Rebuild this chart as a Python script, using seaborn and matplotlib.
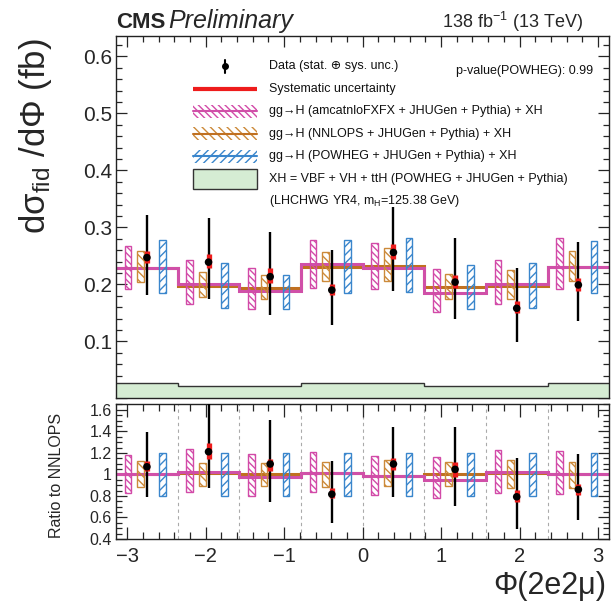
import numpy as np
import matplotlib
matplotlib.use("Agg")
import matplotlib.pyplot as plt
import seaborn as sns
from matplotlib.ticker import MultipleLocator, FuncFormatter
from matplotlib.patches import Rectangle

# ---------------- data ----------------
edges = [-3.1416, -2.3562, -1.5708, -0.7854, 0.0, 0.7854, 1.5708, 2.3562, 3.1416]

# top panel
nnlops_line = [0.229, 0.197, 0.194, 0.231, 0.232, 0.195, 0.197, 0.231]
amcnlo_line = [0.229, 0.201, 0.189, 0.235, 0.229, 0.185, 0.200, 0.231]
xh_line = [0.0265, 0.022, 0.022, 0.0265, 0.0265, 0.022, 0.021, 0.0265]

amc_hi = [0.267, 0.243, 0.2295, 0.278, 0.272, 0.2265, 0.2435, 0.281]
amc_lo = [0.192, 0.166, 0.156, 0.194, 0.191, 0.152, 0.166, 0.191]
nnl_hi = [0.259, 0.221, 0.216, 0.257, 0.263, 0.218, 0.2245, 0.259]
nnl_lo = [0.204, 0.177, 0.174, 0.206, 0.206, 0.1735, 0.175, 0.206]
pow_hi = [0.278, 0.238, 0.216, 0.278, 0.281, 0.234, 0.238, 0.276]
pow_lo = [0.184, 0.158, 0.156, 0.185, 0.187, 0.156, 0.158, 0.185]

data_val = [0.247, 0.239, 0.2135, 0.190, 0.256, 0.204, 0.158, 0.199]
data_hi = [0.322, 0.316, 0.292, 0.260, 0.335, 0.281, 0.229, 0.274]
data_lo = [0.182, 0.174, 0.146, 0.129, 0.188, 0.140, 0.098, 0.135]
sys_hi = [0.259, 0.253, 0.2295, 0.200, 0.2705, 0.216, 0.1705, 0.212]
sys_lo = [0.238, 0.2295, 0.203, 0.182, 0.245, 0.194, 0.150, 0.188]

# ratio panel
r_nnlops_line = [1.0, 1.01, 1.0, 1.01, 0.99, 1.0, 1.01, 1.0]
r_amcnlo_line = [1.0, 1.02, 0.975, 1.015, 0.99, 0.95, 1.02, 1.005]
r_amc_hi = [1.177, 1.233, 1.186, 1.21, 1.175, 1.158, 1.226, 1.217]
r_amc_lo = [0.829, 0.836, 0.800, 0.84, 0.81, 0.777, 0.829, 0.814]
r_nnl_hi = [1.124, 1.108, 1.106, 1.12, 1.13, 1.118, 1.133, 1.118]
r_nnl_lo = [0.882, 0.891, 0.888, 0.88, 0.89, 0.891, 0.870, 0.876]
r_pow_hi = [1.20, 1.20, 1.20, 1.20, 1.20, 1.20, 1.20, 1.20]
r_pow_lo = [0.80, 0.80, 0.80, 0.80, 0.80, 0.80, 0.80, 0.80]
r_data = [1.071, 1.211, 1.097, 0.816, 1.097, 1.047, 0.792, 0.860]
r_data_hi = [1.397, 1.70, 1.503, 1.122, 1.44, 1.437, 1.155, 1.186]
r_data_lo = [0.792, 0.870, 0.741, 0.55, 0.794, 0.709, 0.49, 0.581]
r_sys_hi = [1.124, 1.295, 1.144, 0.872, 1.15, 1.118, 0.854, 0.91]
r_sys_lo = [1.031, 1.14, 1.028, 0.778, 1.044, 0.978, 0.746, 0.808]

legend_labels = [
    "Data (stat. \u2295 sys. unc.)",
    "Systematic uncertainty",
    "gg\u2192H (amcatnloFXFX + JHUGen + Pythia) + XH",
    "gg\u2192H (NNLOPS + JHUGen + Pythia) + XH",
    "gg\u2192H (POWHEG + JHUGen + Pythia) + XH",
    "XH = VBF + VH + ttH (POWHEG + JHUGen + Pythia)",
    "(LHCHWG YR4, m$_{\\rm H}$=125.38 GeV)",
]

# ---------------- style ----------------
sns.set_theme(style="ticks")
plt.rcParams["font.family"] = ["Liberation Sans", "DejaVu Sans"]
plt.rcParams["mathtext.fontset"] = "custom"
plt.rcParams["mathtext.rm"] = "Liberation Sans"
plt.rcParams["mathtext.it"] = "Liberation Sans:italic"
plt.rcParams["hatch.linewidth"] = 1.0

C_AMC = "#d24aa8"
C_NNL = "#cc8a3a"
C_POW = "#3a86cc"
C_AMC_LINE = "#d050a8"
C_NNL_LINE = "#c07020"
C_GREEN = "#d5ecd3"
C_RED = "#ee1c1c"
H_AMC = "\\" * 5
H_NNL = "\\" * 4
H_POW = "/" * 4

edges_a = np.array(edges)
centers = 0.5 * (edges_a[:-1] + edges_a[1:])
OFF_AMC, OFF_NNL, OFF_POW = -0.24, -0.08, 0.20
BOXW = 0.085

fig = plt.figure(figsize=(6.11, 6.06), dpi=100)
ax = fig.add_axes([0.190, 0.3427, 0.807, 0.598])
axr = fig.add_axes([0.190, 0.1106, 0.807, 0.2228])


def draw_boxes(a, off, lo, hi, color, hatch):
    lo = np.array(lo)
    hi = np.array(hi)
    a.bar(centers + off, hi - lo, bottom=lo, width=BOXW, fill=False,
          edgecolor=color, hatch=hatch, linewidth=1.0, zorder=3)


def draw_data(a, val, lo, hi, slo, shi):
    a.vlines(centers, lo, hi, color="black", linewidth=1.7, zorder=4)
    a.vlines(centers, slo, shi, color=C_RED, linewidth=3.8, zorder=5)
    sns.scatterplot(x=centers, y=val, ax=a, color="black", s=30,
                    edgecolor="none", zorder=6, legend=False)


# ---- top panel ----
ax.stairs(xh_line, edges, fill=True, color=C_GREEN, zorder=1)
ax.stairs(xh_line, edges, color="#333333", linewidth=1.0, baseline=None, zorder=1.5)
ax.stairs(nnlops_line, edges, color=C_NNL_LINE, linewidth=2.2, baseline=None, zorder=2)
ax.stairs(amcnlo_line, edges, color=C_AMC_LINE, linewidth=2.2, baseline=None, zorder=2.1)
draw_boxes(ax, OFF_AMC, amc_lo, amc_hi, C_AMC, H_AMC)
draw_boxes(ax, OFF_NNL, nnl_lo, nnl_hi, C_NNL, H_NNL)
draw_boxes(ax, OFF_POW, pow_lo, pow_hi, C_POW, H_POW)
draw_data(ax, data_val, data_lo, data_hi, sys_lo, sys_hi)

ax.set_xlim(edges[0], edges[-1])
ax.set_ylim(0, 0.636)
ax.xaxis.set_major_locator(MultipleLocator(1))
ax.xaxis.set_minor_locator(MultipleLocator(0.2))
ax.yaxis.set_major_locator(MultipleLocator(0.1))
ax.yaxis.set_minor_locator(MultipleLocator(0.02))
ax.yaxis.set_major_formatter(FuncFormatter(lambda v, p: "" if abs(v) < 1e-9 else f"{v:.1f}"))
ax.tick_params(axis="both", which="both", direction="in", top=True, right=True)
ax.tick_params(axis="both", which="major", length=8, width=0.9)
ax.tick_params(axis="both", which="minor", length=4.3, width=0.9)
ax.tick_params(axis="x", labelbottom=False)
ax.tick_params(axis="y", labelsize=15, pad=3)
ax.set_xlabel("")
ax.set_ylabel("")

# ---- ratio panel ----
for e in edges[1:-1]:
    axr.axvline(e, color="#aaaaaa", linestyle=(0, (3, 3)), linewidth=0.8, zorder=0.5)
axr.stairs(r_nnlops_line, edges, color=C_NNL_LINE, linewidth=2.2, baseline=None, zorder=2)
axr.stairs(r_amcnlo_line, edges, color=C_AMC_LINE, linewidth=2.2, baseline=None, zorder=2.1)
draw_boxes(axr, OFF_AMC, r_amc_lo, r_amc_hi, C_AMC, H_AMC)
draw_boxes(axr, OFF_NNL, r_nnl_lo, r_nnl_hi, C_NNL, H_NNL)
draw_boxes(axr, OFF_POW, r_pow_lo, r_pow_hi, C_POW, H_POW)
draw_data(axr, r_data, r_data_lo, r_data_hi, r_sys_lo, r_sys_hi)

axr.set_xlim(edges[0], edges[-1])
axr.set_ylim(0.4, 1.655)
axr.xaxis.set_major_locator(MultipleLocator(1))
axr.xaxis.set_minor_locator(MultipleLocator(0.2))
axr.yaxis.set_major_locator(MultipleLocator(0.2))
axr.yaxis.set_minor_locator(MultipleLocator(0.05))
axr.yaxis.set_major_formatter(FuncFormatter(lambda v, p: f"{v:g}"))
axr.xaxis.set_major_formatter(FuncFormatter(lambda v, p: f"{v:g}".replace("-", "\u2212")))
axr.tick_params(axis="both", which="both", direction="in", top=True, right=True)
axr.tick_params(axis="x", which="major", length=9, width=0.9, labelsize=14.5, pad=6)
axr.tick_params(axis="x", which="minor", length=4.8, width=0.9)
axr.tick_params(axis="y", which="major", length=8, width=0.9, labelsize=11.5, pad=3)
axr.tick_params(axis="y", which="minor", length=4, width=0.9)
axr.set_xlabel("")
axr.set_ylabel("")

for a in (ax, axr):
    for s in a.spines.values():
        s.set_linewidth(1.0)
        s.set_color("#222222")

# ---- legend (drawn by hand in axes coordinates) ----
hx0, hx1 = 0.156, 0.285
tx = 0.311
y0 = 1 - (66 - 35.7) / 362.6
dy = 22.5 / 362.6
rows = [y0 - i * dy for i in range(7)]
fs_leg = 9
tr = ax.transAxes
hc = 0.5 * (hx0 + hx1)
# data
ax.plot([hc, hc], [rows[0] - 0.018, rows[0] + 0.018], color="black", lw=1.5, transform=tr)
ax.plot([hc], [rows[0]], marker="o", color="black", ms=4, transform=tr)
# systematic
ax.plot([hx0, hx1], [rows[1], rows[1]], color=C_RED, lw=3, transform=tr, solid_capstyle="butt")
# hatched
for r, col, lcol, h in [(rows[2], C_AMC, C_AMC_LINE, H_AMC), (rows[3], C_NNL, C_NNL_LINE, H_NNL),
                        (rows[4], C_POW, C_POW, H_POW)]:
    bh = 13 / 362.6
    ax.add_patch(Rectangle((hx0, r - bh / 2), hx1 - hx0, bh, transform=tr, fill=False,
                           edgecolor=col, hatch=h, linewidth=0.0))
    ax.plot([hx0, hx1], [r, r], color=lcol, lw=1.5, transform=tr)
# green
gh = 20 / 362.6
ax.add_patch(Rectangle((hx0, rows[5] - gh / 2), hx1 - hx0, gh, transform=tr,
                       facecolor=C_GREEN, edgecolor="#333333", linewidth=1.0))
for r, lab in zip(rows, legend_labels):
    ax.text(tx, r, lab, transform=tr, fontsize=fs_leg, va="center", ha="left", color="#111111")
ax.text(0.968, rows[0] - 0.012, "p-value(POWHEG): 0.99", transform=tr, fontsize=fs_leg,
        va="center", ha="right", color="#111111")

# ---- titles and axis labels ----
fig.text(0.19, 1 - 28 / 606, "CMS", fontsize=16, fontweight="bold", ha="left", va="baseline")
fig.text(0.276, 1 - 28 / 606, "Preliminary", fontsize=18, fontstyle="italic", ha="left", va="baseline")
fig.text(0.955, 1 - 28 / 606, "138 fb$^{-1}$ (13 TeV)", fontsize=13, ha="right", va="baseline")
fig.text(0.058, 1 - 38 / 606, "d\u03c3$_{\\rm fid}$ /d\u03a6 (fb)", fontsize=25, rotation=90,
         ha="center", va="top")
fig.text(0.092, 0.216, "Ratio to NNLOPS", fontsize=11.5, rotation=90, ha="center", va="center")
fig.text(0.993, 0.033, "\u03a6(2e2\u03bc)", fontsize=22, ha="right", va="center")

fig.savefig("out.png", dpi=100)
